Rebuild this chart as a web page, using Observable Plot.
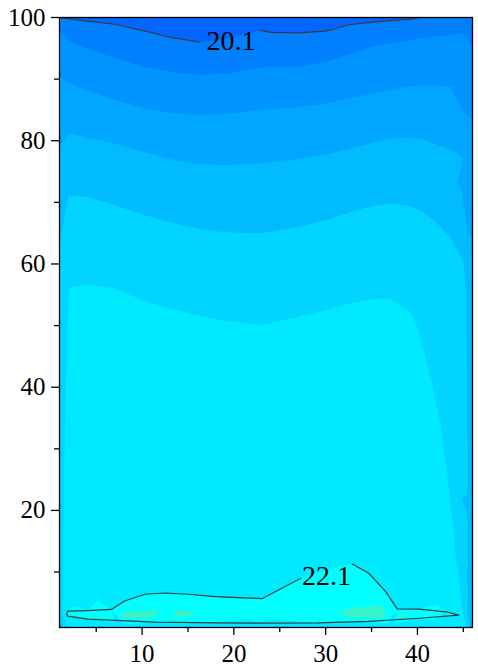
<!DOCTYPE html>
<html><head><meta charset="utf-8">
<script src="https://cdn.jsdelivr.net/npm/d3@7"></script>
<script src="https://cdn.jsdelivr.net/npm/@observablehq/plot@0.6"></script>
<style>
body{margin:0;background:#fff}
svg{display:block}
#chart svg text{font-family:"Liberation Serif","Times New Roman",Times,serif !important}
</style>
</head><body><div id="chart"></div>
<script>
// ---- axes ----
const xDomain = [1, 46];
const yDomain = [1, 100];
const xTicks = [10, 20, 30, 40];
const xMinorTicks = [5, 15, 25, 35, 45];
const yTicks = [20, 40, 60, 80, 100];
const yMinorTicks = [10, 30, 50, 70, 90];

// ---- contour levels and fill colours ----
const levels = [19.5, 20.1, 20.43, 20.77, 21.1, 21.43, 21.77, 22.1, 22.43];
const levelColors = ["#0066ff", "#0080ff", "#0094ff", "#00a6ff", "#00bcff", "#00d4ff", "#00eaff", "#00ffff", "#38f2c8"];

// ---- isolines: [x, y] ----
const iso20_10 = [[1.3,99.95],[2,99.8],[4,99.4],[7,98.9],[10,97.9],[13,96.8],[16.3,96.0],[19,96.5],[22.9,97.9],[24,97.6],[27,97.5],[30,97.8],[32.8,98.9],[35,99.2],[37,99.5],[39.3,99.75],[40.3,100]];
const iso20_43 = [[2,96.2],[4,94.9],[7,93.4],[10,92.0],[13,91.2],[16,90.7],[19,90.8],[23,91.9],[27,91.9],[30,92.8],[33,94.2],[35,95.2],[37,95.8],[39,96.3],[40.5,96.6],[42,96.9],[43.5,97.1],[45,97.4]];
const iso20_77 = [[2,89.4],[4,88.1],[7,86.6],[10,85.3],[13,84.5],[16,84.1],[19,84.3],[23,85.0],[27,85.4],[30,86.0],[33,87.0],[35,87.6],[37,88.2],[39,88.8],[40.5,88.9],[42,88.9],[43.5,88.8],[45,88.6]];
const iso21_10 = [[2,81.2],[4,80.5],[7,79.5],[10,78.2],[13,77.0],[16,76.2],[19,76.0],[23,76.3],[27,77.0],[30,77.7],[33,78.8],[35,79.6],[37,80.3],[39,80.4],[40.5,80.2],[42,79.4],[43.5,78.6],[45,77.3]];
const iso21_43 = [[2,71.1],[4,70.8],[7,69.5],[10,68.0],[13,66.7],[16,65.7],[19,65.1],[23,64.9],[27,65.9],[30,67.0],[33,68.5],[35,69.3],[37,69.8],[39,69.4],[40.5,68.5],[42,66.8],[43.5,64.5],[45,60.5]];
const iso21_77 = [[2,56.0],[4,56.6],[7,56.0],[10,54.0],[13,52.7],[16,51.6],[19,50.7],[23,50.0],[27,51.3],[30,52.4],[33,53.6],[35,54.2],[37,54.3],[39.3,51.9],[40.1,49.1],[41.5,41.0],[42.6,33.0],[43.3,24.8],[43.9,16.7],[44.5,9.7],[44.9,4.1],[45.3,1]];
// closed 22.1 contour, starting just after its label
const iso22_10 = [[32.9,11.3],[34.7,9.8],[36.5,6.9],[37.8,4.0],[40.2,3.97],[43.1,3.55],[44.5,3.0],[40.2,2.5],[34.7,2.0],[29.2,1.76],[23,1.7],[18,1.76],[11.4,1.87],[4.1,2.35],[1.9,2.84],[1.78,3.25],[1.9,3.65],[4,3.75],[6.65,3.93],[8.1,5.3],[10.3,6.4],[12.5,6.6],[15,6.4],[18,6.0],[20.5,5.85],[23.1,5.7],[27.3,9.0]];
const iso22_10UnderLabel = [[30,10.3]];

// ---- other readings [x, y, value] ----
const edgeLeft = [[1,100,20.45],[1,96.2,20.6],[1,89.4,20.8],[1,81.2,21.05],[1,76,21.17],[1,71.1,21.3],[1,63.5,21.42],[1,56,21.5],[1,48,21.56],[1,40,21.58],[1,32,21.6],[1,25,21.6],[1,18,21.62],[1,12,21.62],[1,6,21.62],[1,3.25,21.6],[1,1,21.2]];
const nearLeft = [[2,76,21.27],[2,63.5,21.6],[2,48,21.81],[2,32,21.88],[2,18,21.95],[2,10,21.98]];
const edgeRight = [[46,100,20.3],[46,93,20.5],[46,85,20.7],[46,75,20.95],[46,65,21.05],[46,55,21.12],[46,45,21.15],[46,35,21.17],[46,20,21.17],[46,10,21.17],[46,3,21.1],[46,1,20.9],
  [45,55,21.55],[45,50,21.57],[45,45,21.6],[45,35,21.64],[45,25,21.68],[45,18,21.7],[45,12,21.72]];
const topRow = [[2,100,20.05],[7,100,19.95],[13,100,19.85],[19,100,19.8],[23,100,19.85],[30,100,19.9],[35,100,19.95],[43,100,20.2]];
const bottomRow = [[2,1,21.8],[8,1,21.9],[15,1,21.92],[23,1,21.92],[30,1,21.92],[37,1,21.9],[42,1,21.85],[44,1,21.8]];
const interior = [[2,40,21.85],[8,40,21.85],[15,40,21.84],[23,40,21.83],[30,40,21.85],[36,40,21.85],[40,40,21.8],[38.5,50,21.79],
  [2,25,21.92],[8,25,21.93],[15,25,21.93],[23,25,21.93],[30,25,21.94],[37,25,21.93],[41.5,25,21.84],
  [2,14,21.97],[8,14,21.99],[15,14,22.0],[21,14,22.0],[27,15,22.0],[33,17,22.0],[38,13,21.98],[42,12,21.9],
  [2,6,21.98],[5,6.3,21.98],[9,8.5,21.98],[12.5,9,21.98],[16,8.6,21.98],[20,8.4,21.98],[24,9.5,21.98],[28,12.5,21.98],[33,14,21.98],[37,9.5,21.98],[39.5,6.5,21.98],[42.5,6,21.95]];
const warmCore = [[3,3.1,22.2],[5.5,3.0,22.4],[8,2.9,22.55],[11,3.0,22.6],[14,3.0,22.55],[17,3.2,22.38],[20,3.4,22.25],[24,3.5,22.25],[28,4.2,22.3],[31,3.5,22.42],[33.5,2.9,22.55],[36,2.9,22.6],[38.5,2.9,22.55],[41.5,3.1,22.3],[43.5,3.1,22.15],[10.5,5,22.2],[13,5,22.2],[30,7.5,22.2],[33,9,22.15],[35,7,22.2],[32,5.5,22.3]];

const contourLabels = [{value: 20.1, x: 19.7, y: 96.1}, {value: 22.1, x: 30.1, y: 9.4}];

// ---- assemble samples ----
const samples = [];
const addIso = (arr, v) => arr.forEach(([x, y]) => samples.push({x, y, v: v + 0.002}));
addIso(iso20_10, 20.1); addIso(iso20_43, 20.43); addIso(iso20_77, 20.77);
addIso(iso21_10, 21.1); addIso(iso21_43, 21.43); addIso(iso21_77, 21.77);
addIso(iso22_10, 22.1); addIso(iso22_10UnderLabel, 22.1);
[edgeLeft, nearLeft, edgeRight, topRow, bottomRow, interior, warmCore].forEach(a => a.forEach(([x, y, v]) => samples.push({x, y, v})));

const font = "'Liberation Serif', 'Times New Roman', serif";
const lineColor = "#3c3c3c";
const px = d => d[0], py = d => d[1];

const chart = Plot.plot({
  width: 478, height: 670,
  marginLeft: 59, marginRight: 6, marginTop: 17, marginBottom: 43,
  style: "background: white; color: black; font-family: 'Liberation Serif', 'Times New Roman', serif;",
  x: {domain: xDomain, label: null},
  y: {domain: yDomain, label: null},
  color: {type: "ordinal", domain: levels, range: levelColors},
  marks: [
    Plot.contour(samples, {x: "x", y: "y", fill: "v", thresholds: levels,
      interpolate: "barycentric", pixelSize: 1, stroke: "none",
      x1: xDomain[0], x2: xDomain[1], y1: yDomain[0], y2: yDomain[1]}),
    Plot.line(iso20_10.filter(d => d[0] <= 16.3), {x: px, y: py, stroke: lineColor, strokeWidth: 1.2}),
    Plot.line(iso20_10.filter(d => d[0] >= 22.9), {x: px, y: py, stroke: lineColor, strokeWidth: 1.2}),
    Plot.line(iso22_10, {x: px, y: py, stroke: lineColor, strokeWidth: 1.2}),
    Plot.text(contourLabels, {x: "x", y: "y", text: d => d.value.toFixed(1), fontSize: 28, fontFamily: font, fill: "black", textAnchor: "middle", lineAnchor: "middle"}),
    Plot.frame({stroke: "black", strokeWidth: 1.3}),
    Plot.axisX({ticks: xTicks, tickSize: 8, tickPadding: 9, fontSize: 25, label: null, strokeWidth: 1.3}),
    Plot.axisX({ticks: xMinorTicks, tickSize: 5, tickFormat: () => "", label: null, strokeWidth: 1.3}),
    Plot.axisY({ticks: yTicks, tickSize: 8, tickPadding: 6, fontSize: 25, label: null, strokeWidth: 1.3}),
    Plot.axisY({ticks: yMinorTicks, tickSize: 5, tickFormat: () => "", label: null, strokeWidth: 1.3})
  ]
});
document.getElementById("chart").appendChild(chart);
</script>
</body></html>
